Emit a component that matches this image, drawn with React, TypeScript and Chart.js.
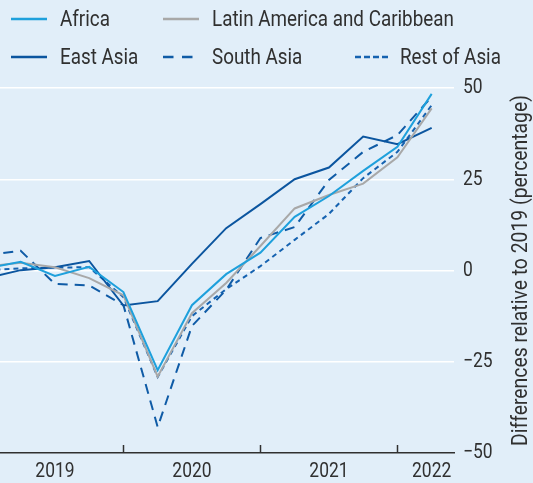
import React, { useEffect, useRef } from "react";
import { Chart, registerables } from "chart.js";

Chart.register(...registerables);

const quarters = ["2019Q1", "2019Q2", "2019Q3", "2019Q4", "2020Q1", "2020Q2", "2020Q3", "2020Q4", "2021Q1", "2021Q2", "2021Q3", "2021Q4", "2022Q1", "2022Q2"];
const africa = [0.6, 2.4, -1.5, 1.0, -5.9, -27.3, -9.5, -1.0, 4.9, 14.7, 20.4, 27.3, 33.9, 48.4];
const latinAmerica = [1.1, 2.1, 0.9, -2.1, -6.8, -29.1, -11.7, -3.4, 6.7, 17.0, 20.7, 23.8, 31.0, 44.4];
const eastAsia = [-2.1, 0.1, 0.9, 2.6, -9.6, -8.4, 1.8, 11.6, 18.2, 25.0, 28.2, 36.7, 34.6, 39.1];
const southAsia = [4.2, 5.4, -3.7, -4.1, -9.5, -42.9, -15.2, -5.3, 8.9, 11.9, 24.8, 32.5, 37.1, 47.6];
const restOfAsia = [0.1, 0.6, 0.8, 0.9, -7.3, -29.2, -12.5, -5.1, 1.2, 8.4, 15.5, 25.3, 32.5, 45.3];

const yearLabels = ["2019", "2020", "2021", "2022"];
const yearLabelPositions = [2019.5, 2020.5, 2021.5, 2022.25];
const yearBoundaries = [2020, 2021, 2022];
const yTicks = [-50, -25, 0, 25, 50];
const yTitle = "Differences relative to 2019 (percentage)";

const FONT = "Roboto, 'Noto Sans', sans-serif";
const TEXT = "#303030";
const BG = "#e1eef9";

const toX = (q: string) => {
  const y = parseInt(q.slice(0, 4), 10);
  const n = parseInt(q.slice(5), 10);
  return y + (n - 1) / 4;
};
const pts = (vals: number[]) => vals.map((v, i) => ({ x: toX(quarters[i]), y: v }));

const series = [
  { label: "Africa", data: africa, color: "#1ea0dc", dash: [] as number[] },
  { label: "Latin America and Caribbean", data: latinAmerica, color: "#a8a8a8", dash: [] as number[] },
  { label: "East Asia", data: eastAsia, color: "#0b559f", dash: [] as number[] },
  { label: "South Asia", data: southAsia, color: "#0f5ba6", dash: [10, 7] },
  { label: "Rest of Asia", data: restOfAsia, color: "#1562b0", dash: [5, 4] },
];

const legendPos = [
  { x: 11, y: 19, tx: 60 },
  { x: 163, y: 19, tx: 212 },
  { x: 11, y: 57, tx: 60 },
  { x: 163, y: 57, tx: 212 },
  { x: 355, y: 57, tx: 400 },
];

function drawText(ctx: any, text: string, x: number, y: number, align: string, sx: number) {
  ctx.save();
  ctx.translate(x, y);
  ctx.scale(sx, 1);
  ctx.textAlign = align;
  ctx.textBaseline = "middle";
  ctx.fillText(text, 0, 0);
  ctx.restore();
}

const extras = {
  id: "extras",
  afterDraw(chart: any) {
    const ctx = chart.ctx;
    const xs = chart.scales.x;
    const ys = chart.scales.y;
    const bottom = chart.chartArea.bottom;
    ctx.save();
    ctx.strokeStyle = TEXT;
    ctx.lineWidth = 1.5;
    yearBoundaries.forEach((v) => {
      const px = Math.round(xs.getPixelForValue(v)) + 0.5;
      ctx.beginPath();
      ctx.moveTo(px, bottom);
      ctx.lineTo(px, bottom - 8);
      ctx.stroke();
    });
    ctx.fillStyle = TEXT;
    ctx.font = `21px ${FONT}`;
    yearLabelPositions.forEach((v, i) => {
      drawText(ctx, yearLabels[i], xs.getPixelForValue(v), bottom + 19, "center", 0.83);
    });
    yTicks.forEach((v) => {
      const t = v < 0 ? "\u2212" + Math.abs(v) : String(v);
      drawText(ctx, t, chart.chartArea.right + 9, ys.getPixelForValue(v), "left", 0.83);
    });
    ctx.font = `22px ${FONT}`;
    const cy = (ys.getPixelForValue(50) + ys.getPixelForValue(-50)) / 2;
    ctx.translate(521, cy);
    ctx.rotate(-Math.PI / 2);
    drawText(ctx, yTitle, 0, 0, "center", 0.88);
    ctx.restore();
  },
};

export default function App() {
  const ref = useRef<HTMLCanvasElement>(null);
  useEffect(() => {
    document.body.style.margin = "0";
    const chart = new Chart(ref.current!, {
      type: "line",
      data: {
        datasets: series.map((s) => ({
          label: s.label,
          data: pts(s.data),
          borderColor: s.color,
          backgroundColor: s.color,
          borderWidth: 2,
          borderDash: s.dash,
          pointRadius: 0,
          tension: 0,
          fill: false,
        })),
      },
      options: {
        animation: false,
        responsive: false,
        maintainAspectRatio: false,
        layout: { padding: { top: 88, left: 0, right: 0, bottom: 0 } },
        plugins: { legend: { display: false }, tooltip: { enabled: false } },
        scales: {
          x: {
            type: "linear",
            min: 2019.099,
            max: 2022.413,
            grid: { display: false, drawTicks: false },
            border: { display: true, color: TEXT, width: 1.5 },
            afterBuildTicks: (scale: any) => {
              scale.ticks = yearLabelPositions.map((v) => ({ value: v }));
            },
            afterFit: (scale: any) => {
              scale.height = 30;
            },
            ticks: { display: false },
          },
          y: {
            type: "linear",
            position: "right",
            min: -50,
            max: 50,
            afterBuildTicks: (scale: any) => {
              scale.ticks = yTicks.map((v) => ({ value: v }));
            },
            afterFit: (scale: any) => {
              scale.width = 79;
            },
            grid: {
              drawTicks: false,
              lineWidth: 1.5,
              color: (c: any) => (c.tick && c.tick.value > -50 ? "#ffffff" : "rgba(0,0,0,0)"),
            },
            border: { display: false },
            ticks: { display: false },
          },
        },
      },
      plugins: [extras],
    });
    return () => chart.destroy();
  }, []);

  return (
    <div style={{ position: "relative", width: 533, height: 483, background: BG, overflow: "hidden" }}>
      <canvas ref={ref} width={533} height={483} style={{ position: "absolute", left: 0, top: 0 }} />
      {series.map((s, i) => (
        <React.Fragment key={s.label}>
          <svg
            width={40}
            height={6}
            style={{ position: "absolute", left: legendPos[i].x, top: legendPos[i].y - 3 }}
          >
            <line
              x1={0}
              y1={3}
              x2={i === 3 ? 30 : i === 4 ? 33 : 36}
              y2={3}
              stroke={s.color}
              strokeWidth={2.5}
              strokeDasharray={i === 3 ? "10.5 8.5" : i === 4 ? "6 3" : undefined}
            />
          </svg>
          <div
            style={{
              position: "absolute",
              left: legendPos[i].tx,
              top: legendPos[i].y - 14,
              height: 28,
              lineHeight: "28px",
              fontFamily: FONT,
              fontSize: 22,
              color: TEXT,
              whiteSpace: "nowrap",
              transform: "scaleX(0.856)",
              transformOrigin: "0 50%",
            }}
          >
            {s.label}
          </div>
        </React.Fragment>
      ))}
    </div>
  );
}
